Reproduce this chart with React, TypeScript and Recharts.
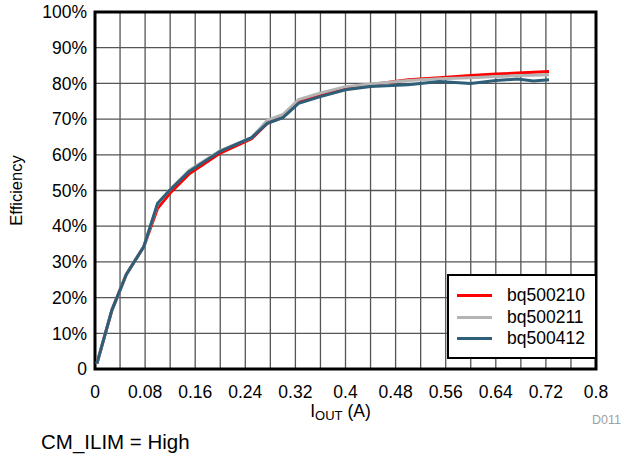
import {
  CartesianGrid,
  Line,
  LineChart,
  ReferenceArea,
  XAxis,
  YAxis,
} from "recharts";

const iout = [
  0.003, 0.027, 0.05, 0.078, 0.1, 0.12, 0.15, 0.2, 0.25, 0.275, 0.3, 0.325,
  0.36, 0.4, 0.44, 0.5, 0.55, 0.6, 0.64, 0.675, 0.7, 0.725,
];
const bq500210 = [
  1.5, 16.5, 26.5, 34.3, 45.0, 49.3, 54.6, 60.5, 64.5, 68.8, 70.5, 74.8, 76.8,
  78.6, 79.6, 81.0, 81.6, 82.2, 82.6, 82.9, 83.1, 83.3,
];
const bq500211 = [
  1.5, 16.5, 26.5, 34.3, 46.2, 50.3, 55.6, 61.2, 64.8, 69.7, 71.3, 75.5, 77.3,
  79.1, 79.8, 80.8, 81.3, 81.6, 81.9, 82.2, 82.3, 82.4,
];
const bq500412 = [
  1.5, 16.5, 26.5, 34.3, 46.4, 50.2, 55.3, 61.0, 64.8, 68.8, 70.4, 74.4, 76.3,
  78.2, 79.1, 79.6, 80.5, 80.0, 80.8, 81.2, 80.7, 81.0,
];

const xTicks = [
  0, 0.04, 0.08, 0.12, 0.16, 0.2, 0.24, 0.28, 0.32, 0.36, 0.4, 0.44, 0.48,
  0.52, 0.56, 0.6, 0.64, 0.68, 0.72, 0.76, 0.8,
];
const yTicks = [0, 10, 20, 30, 40, 50, 60, 70, 80, 90, 100];

const series = [
  { key: "bq500210", name: "bq500210", color: "#FF0000" },
  { key: "bq500211", name: "bq500211", color: "#B4B4B4" },
  { key: "bq500412", name: "bq500412", color: "#2E5E78" },
];

const rows = iout.map((x, i) => ({
  x,
  bq500210: bq500210[i],
  bq500211: bq500211[i],
  bq500412: bq500412[i],
}));

const font = "'Liberation Sans', Arial, sans-serif";

function LegendBox() {
  return (
    <div
      style={{
        position: "absolute",
        left: 447,
        top: 274,
        width: 150,
        height: 85,
        border: "2.5px solid #000",
        background: "#fff",
        fontFamily: font,
        fontSize: 17.5,
        paddingTop: 9,
        boxSizing: "border-box",
      }}
    >
      {series.map((s) => (
        <div
          key={s.key}
          style={{ display: "flex", alignItems: "center", height: 21.5 }}
        >
          <div
            style={{
              width: 35,
              height: 3,
              background: s.color,
              marginLeft: 8,
              marginRight: 15,
            }}
          />
          <span>{s.name}</span>
        </div>
      ))}
    </div>
  );
}

function XLabel(props: any) {
  const { viewBox } = props;
  const cx = viewBox.x + viewBox.width / 2 - 5;
  return (
    <text
      x={cx}
      y={417}
      textAnchor="middle"
      fontFamily={font}
      fontSize={17.5}
      fill="#000"
    >
      I
      <tspan fontSize={13} dy={3}>
        OUT
      </tspan>
      <tspan dy={-3}> (A)</tspan>
    </text>
  );
}

export default function App() {
  return (
    <div
      style={{
        position: "absolute",
        left: 0,
        top: 0,
        width: 624,
        height: 458,
        background: "#fff",
        fontFamily: font,
      }}
    >
      <LineChart
        width={624}
        height={458}
        data={rows}
        margin={{ top: 12, right: 28, left: 0, bottom: 59 }}
      >
        <CartesianGrid stroke="#555" strokeWidth={1.3} />
        <XAxis
          dataKey="x"
          type="number"
          domain={[0, 0.8]}
          ticks={xTicks}
          interval={0}
          tickFormatter={(v: number, i: number) =>
            i % 2 === 0 ? String(Number(v.toFixed(2))) : ""
          }
          tickLine={false}
          axisLine={false}
          tickMargin={11}
          height={30}
          tick={{ fill: "#000", fontSize: 17.5, fontFamily: font }}
          label={<XLabel />}
        />
        <YAxis
          type="number"
          domain={[0, 100]}
          ticks={yTicks}
          interval={0}
          width={95}
          tickFormatter={(v: number) => (v === 0 ? "0" : `${v}%`)}
          tickLine={false}
          axisLine={false}
          tick={{ fill: "#000", fontSize: 17.5, fontFamily: font }}
          label={{
            value: "Efficiency",
            angle: -90,
            position: "insideLeft",
            offset: 16,
            style: {
              fill: "#000",
              fontSize: 16.5,
              fontFamily: font,
              textAnchor: "middle",
            },
          }}
        />
        <ReferenceArea
          x1={0}
          x2={0.8}
          y1={0}
          y2={100}
          fill="none"
          fillOpacity={0}
          stroke="#000"
          strokeWidth={3}
          strokeOpacity={1}
        />
        {series.map((s) => (
          <Line
            key={s.key}
            dataKey={s.key}
            name={s.name}
            type="linear"
            stroke={s.color}
            strokeWidth={3}
            dot={false}
            isAnimationActive={false}
          />
        ))}
      </LineChart>
      <LegendBox />
      <div
        style={{
          position: "absolute",
          left: 592,
          top: 413,
          fontSize: 12.5,
          color: "#a0a0a0",
        }}
      >
        D011
      </div>
      <div
        style={{
          position: "absolute",
          left: 41,
          top: 430,
          fontSize: 20.5,
          color: "#000",
        }}
      >
        CM_ILIM = High
      </div>
    </div>
  );
}
